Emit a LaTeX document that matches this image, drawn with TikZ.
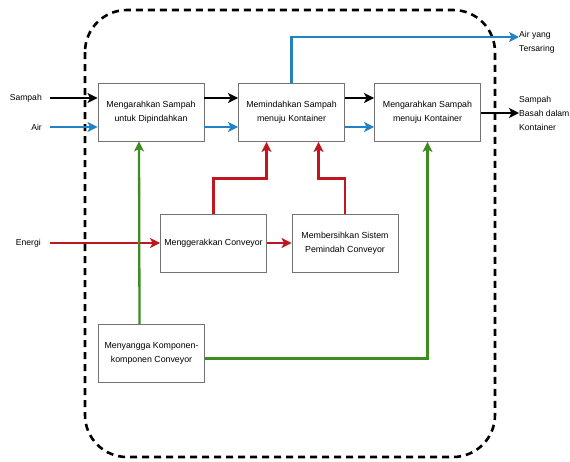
\documentclass[tikz,border=0pt]{standalone}
\usepackage{fontspec}
\setmainfont{Liberation Sans}
\usepackage{tikz}
\usetikzlibrary{arrows.meta}
\usetikzlibrary{positioning}
\usetikzlibrary{calc}
\definecolor{flowblue}{RGB}{35,130,195}
\definecolor{flowred}{RGB}{192,22,32}
\definecolor{flowgreen}{RGB}{62,140,32}
\tikzset{basic box/.style={draw=black!55,
                           line width=0.9pt,
                           align=center,
                           inner sep=2pt,
                           font=\fontsize{8.8}{14}\selectfont}}
\tikzset{func box/.style={basic box,minimum width=106pt,minimum height=58pt}}
\tikzset{edge/.style={draw,
                      line width=2.3pt,
                      -{Stealth[length=10pt,width=10pt,inset=2.5pt]}}}
\tikzset{flow text/.style={inner sep=0pt,font=\fontsize{8.6}{14}\selectfont}}

\begin{document}
\begin{tikzpicture}
      [
      x=1pt,y=-1pt,
      ]
      \useasboundingbox (0,0) rectangle (570,461);

      % system boundary
      \draw [line width=2.6pt,dash pattern=on 7pt off 5pt,rounded corners=42pt]
      (85,10) rectangle (495,457);

      % functions
      \node [func box] (B1) at (151,112) {Mengarahkan Sampah\\untuk Dipindahkan};
      \node [func box] (B2) at (291.5,112.5) {Memindahkan Sampah\\menuju Kontainer};
      \node [func box] (B3) at (427.5,112.5) {Mengarahkan Sampah\\menuju Kontainer};
      \node [func box] (B4) at (213.5,243) {Menggerakkan Conveyor};
      \node [func box] (B5) at (345,243) {Membersihkan Sistem\\Pemindah Conveyor};
      \node [func box] (B6) at (151.5,353.5) {Menyangga Komponen-\\komponen Conveyor};

      % inputs and outputs
      \node [flow text,anchor=east] (sampah) at (42,98) {Sampah};
      \node [flow text,anchor=east] (air) at (42,127) {Air};
      \node [flow text,anchor=east] (energi) at (41,243) {Energi};
      \node [flow text,anchor=west,align=left] (airout) at (519,42) {Air yang\\Tersaring};
      \node [flow text,anchor=west,align=left] (wasteout) at (519,113) {Sampah\\Basah dalam\\Kontainer};

      % material flow
      \draw [edge] ([xshift=8pt]sampah.east) -- (B1.west |- sampah.east);
      \draw [edge] (B1.east |- sampah.east) -- (B2.west |- sampah.east);
      \draw [edge] (B2.east |- sampah.east) -- (B3.west |- sampah.east);
      \draw [edge] (B3.east |- wasteout.west) -- (wasteout.west);

      % water flow
      \draw [edge,color=flowblue] ([xshift=8pt]air.east) -- (B1.west |- air.east);
      \draw [edge,color=flowblue] (B1.east |- air.east) -- (B2.west |- air.east);
      \draw [edge,color=flowblue] (B2.east |- air.east) -- (B3.west |- air.east);
      \draw [edge,color=flowblue] (B2.north) |- ([yshift=5pt]airout.west);

      % energy flow
      \draw [edge,color=flowred] ([xshift=9pt]energi.east) -- (B4.west);
      \draw [edge,color=flowred] (B4) -- (B5);
      \draw [edge,color=flowred] (B4.north) -- ++(0,-35) -| ([xshift=-25pt]B2.south);
      \draw [edge,color=flowred] (B5.north) -- ++(0,-35) -| ([xshift=27pt]B2.south);

      % support
      \draw [edge,color=flowgreen] ([xshift=-12pt]B6.north) -- ([xshift=-12pt]B1.south);
      \draw [edge,color=flowgreen] ([yshift=-5pt]B6.east) -| (B3.south);

    \end{tikzpicture}
\end{document}
